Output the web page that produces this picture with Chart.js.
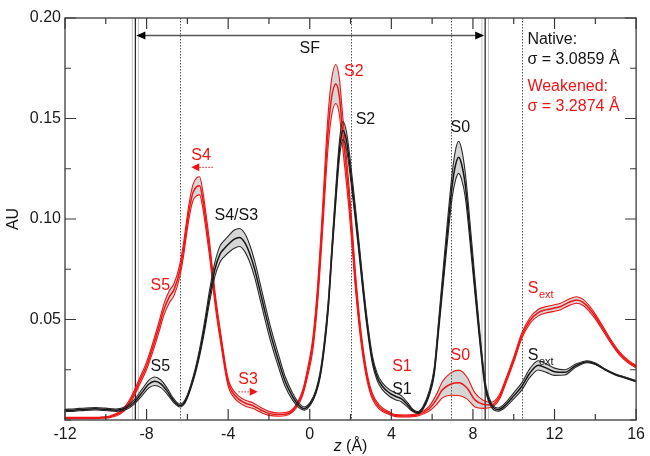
<!DOCTYPE html>
<html>
<head>
<meta charset="utf-8">
<script src="https://cdn.jsdelivr.net/npm/chart.js@4/dist/chart.umd.min.js"></script>
<style>
  html, body { margin: 0; padding: 0; background: #fff; }
  canvas { display: block; }
</style>
</head>
<body>
<canvas id="c" width="650" height="456"></canvas>
<script>
// Ion density along the pore axis z (Å): mean profile and ± spread, native and weakened models
const zNative = [-12,-11.5,-11,-10.5,-10,-9.5,-9,-8.6,-8.2,-7.9,-7.6,-7.3,-7,-6.7,-6.38,-6.1,-5.7,-5.4,-5.15,-4.91,-4.65,-4.4,-4.2,-3.95,-3.7,-3.45,-3.2,-2.95,-2.7,-2.47,-2.2,-1.9,-1.49,-1.2,-0.85,-0.55,-0.27,0.05,0.3,0.5,0.7,0.9,1.1,1.3,1.47,1.63,1.8,2,2.2,2.42,2.6,2.8,3.07,3.3,3.56,3.9,4.2,4.5,4.8,5.05,5.3,5.55,5.85,6.1,6.33,6.65,6.98,7.15,7.3,7.45,7.63,7.95,8.28,8.6,8.9,9.25,9.6,10,10.4,10.8,11.2,11.6,12,12.5,13,13.6,14,14.5,15,15.5,16];
const auNative = [0.0047,0.0050,0.0054,0.0056,0.0053,0.0049,0.0060,0.0090,0.0140,0.0178,0.0193,0.0180,0.0145,0.0100,0.0072,0.0095,0.0210,0.0336,0.0470,0.0617,0.0750,0.0825,0.0852,0.0878,0.0900,0.0908,0.0885,0.0830,0.0750,0.0655,0.0540,0.0420,0.0280,0.0190,0.0118,0.0075,0.0057,0.0085,0.0140,0.0220,0.0360,0.0560,0.0860,0.1150,0.1360,0.1440,0.1390,0.1240,0.1060,0.0850,0.0670,0.0490,0.0300,0.0215,0.0168,0.0135,0.0118,0.0105,0.0075,0.0048,0.0037,0.0060,0.0130,0.0240,0.0480,0.0830,0.1165,0.1270,0.1307,0.1270,0.1165,0.0830,0.0470,0.0175,0.0075,0.0052,0.0075,0.0120,0.0168,0.0235,0.0272,0.0258,0.0240,0.0237,0.0268,0.0290,0.0280,0.0250,0.0226,0.0210,0.0193];
const sdNative = [0.0006,0.0006,0.0006,0.0006,0.0006,0.0006,0.0008,0.0011,0.0016,0.0019,0.0021,0.0019,0.0015,0.0010,0.0007,0.0008,0.0012,0.0018,0.0024,0.0030,0.0035,0.0040,0.0040,0.0042,0.0045,0.0045,0.0045,0.0043,0.0040,0.0040,0.0038,0.0035,0.0030,0.0025,0.0018,0.0012,0.0008,0.0008,0.0010,0.0014,0.0020,0.0025,0.0030,0.0038,0.0043,0.0045,0.0043,0.0040,0.0035,0.0030,0.0027,0.0024,0.0020,0.0018,0.0017,0.0017,0.0017,0.0015,0.0011,0.0006,0.0005,0.0007,0.0012,0.0020,0.0030,0.0045,0.0060,0.0075,0.0080,0.0075,0.0060,0.0045,0.0030,0.0018,0.0010,0.0008,0.0011,0.0015,0.0018,0.0022,0.0023,0.0021,0.0018,0.0013,0.0008,0.0005,0.0004,0.0003,0.0003,0.0003,0.0003];

const zWeakened = [-12,-11,-10.3,-9.8,-9.31,-9,-8.68,-8.35,-8,-7.7,-7.4,-7.15,-6.9,-6.65,-6.38,-6.2,-6.05,-5.9,-5.73,-5.55,-5.4,-5.25,-5.08,-4.9,-4.75,-4.6,-4.43,-4.25,-4.1,-3.95,-3.77,-3.5,-3.12,-2.8,-2.4,-2,-1.5,-1,-0.65,-0.35,-0.1,0.14,0.38,0.63,0.87,1.05,1.28,1.45,1.6,1.93,2.1,2.25,2.45,2.58,2.8,3.07,3.45,3.88,4.2,4.7,5.3,5.84,6.2,6.5,6.9,7.3,7.7,8.1,8.5,8.9,9.3,9.58,10,10.4,10.8,11.2,11.6,11.9,12.3,12.7,13.08,13.4,13.7,14,14.4,14.8,15.2,15.6,16];
const auWeakened = [0.0010,0.0010,0.0011,0.0016,0.0035,0.0065,0.0118,0.0190,0.0270,0.0360,0.0460,0.0550,0.0610,0.0650,0.0740,0.0840,0.0950,0.1050,0.1130,0.1160,0.1165,0.1100,0.0980,0.0840,0.0700,0.0570,0.0450,0.0330,0.0235,0.0170,0.0135,0.0105,0.0082,0.0072,0.0050,0.0033,0.0027,0.0035,0.0070,0.0135,0.0240,0.0370,0.0620,0.1000,0.1400,0.1590,0.1672,0.1610,0.1450,0.1100,0.0880,0.0680,0.0470,0.0360,0.0220,0.0118,0.0060,0.0035,0.0022,0.0020,0.0026,0.0055,0.0100,0.0150,0.0178,0.0185,0.0160,0.0100,0.0078,0.0075,0.0115,0.0185,0.0300,0.0420,0.0495,0.0534,0.0549,0.0555,0.0565,0.0585,0.0597,0.0585,0.0555,0.0515,0.0450,0.0385,0.0330,0.0292,0.0265];
const sdWeakened = [0.0003,0.0003,0.0003,0.0004,0.0007,0.0010,0.0013,0.0016,0.0019,0.0022,0.0025,0.0028,0.0030,0.0030,0.0030,0.0032,0.0034,0.0037,0.0040,0.0045,0.0045,0.0042,0.0040,0.0037,0.0033,0.0030,0.0027,0.0024,0.0020,0.0018,0.0016,0.0015,0.0015,0.0014,0.0012,0.0010,0.0008,0.0007,0.0009,0.0013,0.0020,0.0030,0.0045,0.0060,0.0080,0.0090,0.0097,0.0090,0.0080,0.0060,0.0050,0.0042,0.0033,0.0027,0.0020,0.0014,0.0010,0.0007,0.0005,0.0005,0.0006,0.0012,0.0025,0.0040,0.0055,0.0063,0.0055,0.0035,0.0020,0.0013,0.0012,0.0012,0.0013,0.0014,0.0015,0.0016,0.0016,0.0016,0.0016,0.0016,0.0016,0.0015,0.0014,0.0012,0.0011,0.0009,0.0008,0.0007,0.0006];

// Selectivity-filter boundaries (mean, spread) and binding-site markers, in Å
const sfEdges = [-8.55, 8.60];
const sfEdgesSd = [0.15, 0.16];
const siteMarkers = [-6.38, 2.0, 6.93, 10.4];
const sigmaNative = '3.0859';
const sigmaWeakened = '3.2874';

const RED = '#f01414';
const INK = '#151515';
const BAND = '#d6d6d6';
const FONT = '"Liberation Sans", Arial, sans-serif';

function profile(z, v, sd, k) {
  return z.map((x, i) => ({ x: x, y: v[i] + k * sd[i] }));
}

function lineSet(label, data, color, width, fillTarget) {
  return {
    label: label,
    data: data,
    borderColor: color,
    borderWidth: width,
    pointRadius: 0,
    cubicInterpolationMode: 'monotone',
    fill: fillTarget === undefined ? false : fillTarget,
    backgroundColor: BAND
  };
}

// Text labels placed in data coordinates (z, AU)
const peakLabels = [
  { t: 'S2', z: 1.68, v: 0.1733, c: RED },
  { t: 'S2', z: 2.25, v: 0.1497, c: INK },
  { t: 'S0', z: 6.90, v: 0.1456, c: INK },
  { t: 'S4/S3', z: -4.67, v: 0.1015, c: INK },
  { t: 'S4', z: -5.81, v: 0.1315, c: RED },
  { t: 'S5', z: -7.81, v: 0.0667, c: RED },
  { t: 'S5', z: -7.81, v: 0.0268, c: INK },
  { t: 'S3', z: -3.50, v: 0.0201, c: RED },
  { t: 'S1', z: 4.04, v: 0.0268, c: RED },
  { t: 'S1', z: 4.04, v: 0.0152, c: INK },
  { t: 'S0', z: 6.90, v: 0.0321, c: RED },
  { t: 'S', sub: 'ext', z: 10.69, v: 0.0654, c: RED },
  { t: 'S', sub: 'ext', z: 10.69, v: 0.0318, c: INK }
];
const shiftArrows = [
  { from: -4.75, to: -5.81, v: 0.1257 },
  { from: -3.50, to: -2.55, v: 0.0140 }
];

const overlay = {
  id: 'overlay',
  beforeDraw(chart) {
    const ctx = chart.ctx;
    ctx.save();
    ctx.fillStyle = '#fff';
    ctx.fillRect(0, 0, chart.width, chart.height);
    ctx.restore();
  },
  beforeDatasetsDraw(chart) {
    const ctx = chart.ctx, a = chart.chartArea, xs = chart.scales.x;
    ctx.save();
    // dotted site markers
    ctx.strokeStyle = '#555';
    ctx.lineWidth = 1;
    ctx.setLineDash([1.5, 1.5]);
    siteMarkers.forEach(z => {
      const px = Math.round(xs.getPixelForValue(z)) + 0.5;
      ctx.beginPath(); ctx.moveTo(px, a.top); ctx.lineTo(px, a.bottom); ctx.stroke();
    });
    ctx.setLineDash([]);
    // filter boundaries with spread
    sfEdges.forEach((z, i) => {
      [-1, 1].forEach(k => {
        const px = xs.getPixelForValue(z + k * sfEdgesSd[i]);
        ctx.strokeStyle = '#c4c4c4'; ctx.lineWidth = 1;
        ctx.beginPath(); ctx.moveTo(px, a.top); ctx.lineTo(px, a.bottom); ctx.stroke();
      });
      const px = xs.getPixelForValue(z);
      ctx.strokeStyle = '#2a2a2a'; ctx.lineWidth = 1.3;
      ctx.beginPath(); ctx.moveTo(px, a.top); ctx.lineTo(px, a.bottom); ctx.stroke();
    });
    ctx.restore();
  },
  afterDatasetsDraw(chart) {
    const ctx = chart.ctx, xs = chart.scales.x, ys = chart.scales.y;
    ctx.save();
    // SF double arrow
    const x0 = xs.getPixelForValue(sfEdges[0]) + 1;
    const x1 = xs.getPixelForValue(sfEdges[1]) - 1;
    const ay = ys.getPixelForValue(0.1913);
    ctx.strokeStyle = '#555'; ctx.lineWidth = 1.6;
    ctx.beginPath(); ctx.moveTo(x0 + 6, ay); ctx.lineTo(x1 - 6, ay); ctx.stroke();
    ctx.fillStyle = '#000';
    ctx.beginPath(); ctx.moveTo(x0, ay); ctx.lineTo(x0 + 9, ay - 4); ctx.lineTo(x0 + 9, ay + 4); ctx.closePath(); ctx.fill();
    ctx.beginPath(); ctx.moveTo(x1, ay); ctx.lineTo(x1 - 9, ay - 4); ctx.lineTo(x1 - 9, ay + 4); ctx.closePath(); ctx.fill();

    ctx.textBaseline = 'middle';
    ctx.font = '16px ' + FONT;
    ctx.fillStyle = INK;
    ctx.textAlign = 'center';
    ctx.fillText('SF', xs.getPixelForValue(0.0), ys.getPixelForValue(0.1846));

    // sigma legend
    ctx.textAlign = 'left';
    const lx = xs.getPixelForValue(10.67);
    ctx.fillStyle = INK;
    ctx.fillText('Native:', lx, ys.getPixelForValue(0.1893));
    ctx.fillText('\u03c3 = ' + sigmaNative + ' \u00c5', lx, ys.getPixelForValue(0.1792));
    ctx.fillStyle = RED;
    ctx.fillText('Weakened:', lx, ys.getPixelForValue(0.1660));
    ctx.fillText('\u03c3 = ' + sigmaWeakened + ' \u00c5', lx, ys.getPixelForValue(0.1559));

    // site labels
    peakLabels.forEach(l => {
      const px = xs.getPixelForValue(l.z), py = ys.getPixelForValue(l.v);
      ctx.fillStyle = l.c;
      ctx.font = '16px ' + FONT;
      ctx.fillText(l.t, px, py);
      if (l.sub) {
        const w = ctx.measureText(l.t).width;
        ctx.font = '11px ' + FONT;
        ctx.fillText(l.sub, px + w + 0.5, py + 6);
      }
    });

    // dotted shift arrows
    shiftArrows.forEach(s => {
      const p0 = xs.getPixelForValue(s.from), p1 = xs.getPixelForValue(s.to);
      const py = ys.getPixelForValue(s.v);
      const dir = p1 > p0 ? 1 : -1;
      ctx.strokeStyle = RED; ctx.lineWidth = 1;
      ctx.setLineDash([1.5, 1.5]);
      ctx.beginPath(); ctx.moveTo(p0, py); ctx.lineTo(p1 - dir * 6, py); ctx.stroke();
      ctx.setLineDash([]);
      ctx.fillStyle = RED;
      ctx.beginPath(); ctx.moveTo(p1, py); ctx.lineTo(p1 - dir * 8, py - 4); ctx.lineTo(p1 - dir * 8, py + 4); ctx.closePath(); ctx.fill();
    });
    ctx.restore();
  },
  afterDraw(chart) {
    const ctx = chart.ctx, a = chart.chartArea, xs = chart.scales.x, ys = chart.scales.y;
    ctx.save();
    ctx.strokeStyle = '#3a3a3a';
    ctx.lineWidth = 1.3;
    ctx.strokeRect(a.left, a.top, a.right - a.left, a.bottom - a.top);
    // inward ticks on all four sides
    ctx.lineWidth = 1.2;
    ctx.beginPath();
    xs.ticks.forEach(t => {
      const px = xs.getPixelForValue(t.value);
      const len = t.label ? 11 : 6;
      ctx.moveTo(px, a.bottom); ctx.lineTo(px, a.bottom - len);
      ctx.moveTo(px, a.top); ctx.lineTo(px, a.top + len);
    });
    ys.ticks.forEach(t => {
      const py = ys.getPixelForValue(t.value);
      const len = t.label ? 11 : 6;
      ctx.moveTo(a.left, py); ctx.lineTo(a.left + len, py);
      ctx.moveTo(a.right, py); ctx.lineTo(a.right - len, py);
    });
    ctx.stroke();

    // axis titles
    ctx.fillStyle = INK;
    ctx.textBaseline = 'middle';
    ctx.font = '16px ' + FONT;
    ctx.save();
    ctx.translate(14, (a.top + a.bottom) / 2);
    ctx.rotate(-Math.PI / 2);
    ctx.textAlign = 'center';
    ctx.fillText('AU', 0, 0);
    ctx.restore();
    const rest = ' (\u00c5)';
    ctx.font = 'italic 16px ' + FONT;
    const wz = ctx.measureText('z').width;
    ctx.font = '16px ' + FONT;
    const wr = ctx.measureText(rest).width;
    const cx = (a.left + a.right) / 2 - (wz + wr) / 2;
    ctx.textAlign = 'left';
    ctx.font = 'italic 16px ' + FONT;
    ctx.fillText('z', cx, 447);
    ctx.font = '16px ' + FONT;
    ctx.fillText(rest, cx + wz, 447);
    ctx.restore();
  }
};

new Chart(document.getElementById('c'), {
  type: 'line',
  data: {
    datasets: [
      lineSet('Native +', profile(zNative, auNative, sdNative, 1), '#2a2a2a', 1.1, 2),
      lineSet('Native', profile(zNative, auNative, sdNative, 0), INK, 1.5),
      lineSet('Native -', profile(zNative, auNative, sdNative, -1), '#2a2a2a', 1.1),
      lineSet('Weakened +', profile(zWeakened, auWeakened, sdWeakened, 1), RED, 1.1, 5),
      lineSet('Weakened', profile(zWeakened, auWeakened, sdWeakened, 0), RED, 1.5),
      lineSet('Weakened -', profile(zWeakened, auWeakened, sdWeakened, -1), RED, 1.1)
    ]
  },
  options: {
    responsive: false,
    animation: false,
    devicePixelRatio: 1,
    layout: { padding: { top: 18, right: 12, left: 0, bottom: 0 } },
    plugins: {
      legend: { display: false },
      tooltip: { enabled: false },
      filler: { drawTime: 'beforeDatasetsDraw' }
    },
    scales: {
      x: {
        type: 'linear',
        min: -12, max: 16,
        grid: { display: false, drawTicks: false },
        border: { display: false },
        afterFit(s) { s.height = 36; },
        ticks: {
          stepSize: 2,
          autoSkip: false,
          maxRotation: 0,
          padding: 5,
          color: '#1a1a1a',
          font: { family: FONT, size: 16 },
          callback: v => (Math.round(v) % 4 === 0 ? String(Math.round(v)) : '')
        }
      },
      y: {
        min: 0, max: 0.2,
        grid: { display: false, drawTicks: false },
        border: { display: false },
        afterFit(s) { s.width = 65; },
        ticks: {
          stepSize: 0.025,
          autoSkip: false,
          padding: 4,
          color: '#1a1a1a',
          font: { family: FONT, size: 16 },
          callback: v => {
            const k = Math.round(v * 1000);
            return (k > 0 && k % 50 === 0) ? (k / 1000).toFixed(2) : '';
          }
        }
      }
    }
  },
  plugins: [overlay]
});
</script>
</body>
</html>
